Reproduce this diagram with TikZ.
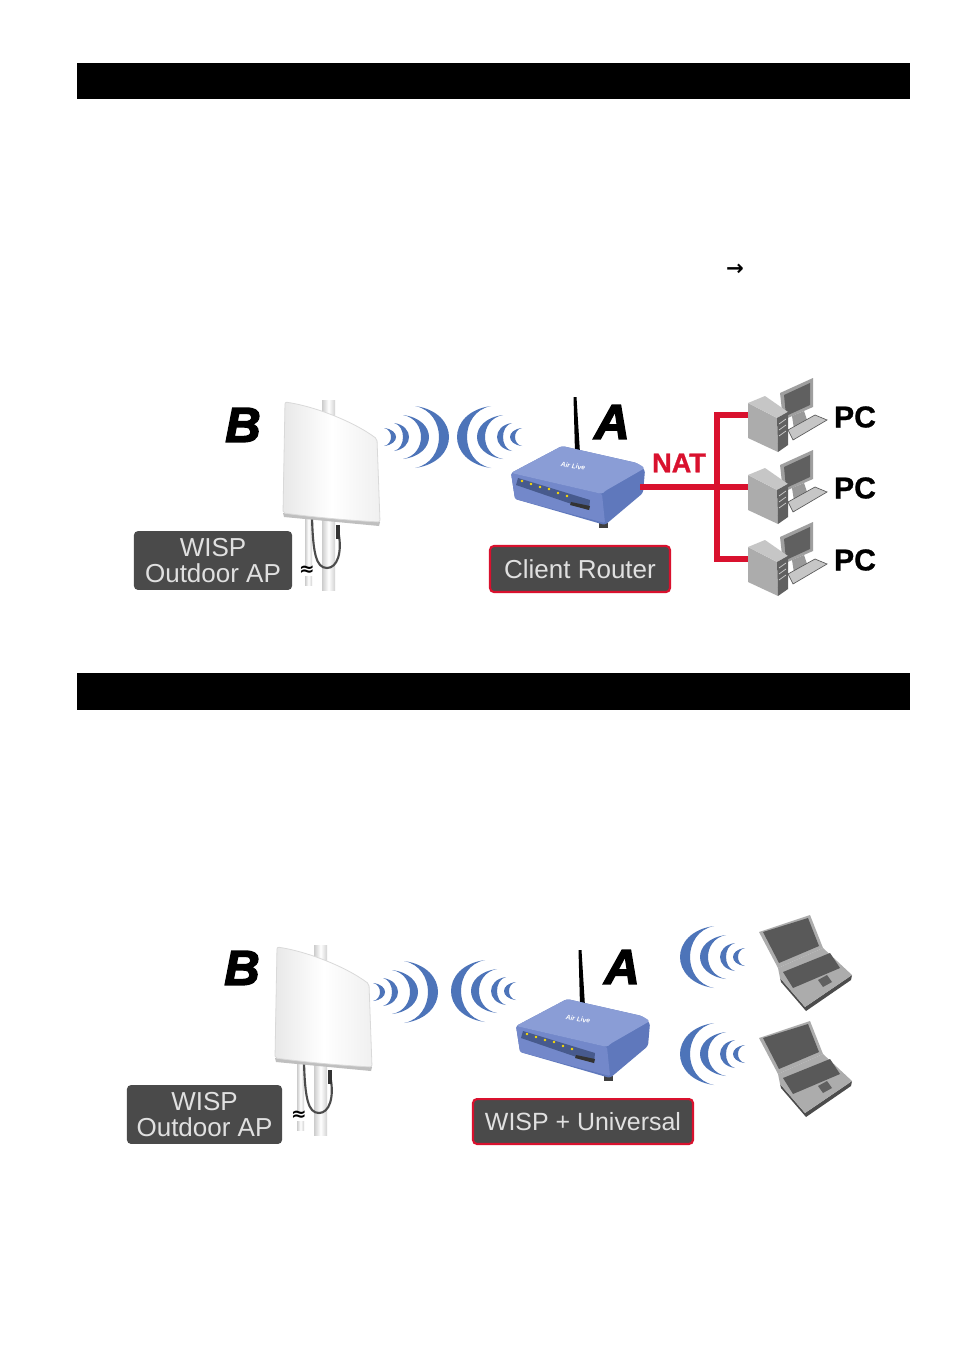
\documentclass[tikz,border=0pt]{standalone}
\usepackage{fontspec}
\setmainfont[BoldFeatures={FakeBold=1}]{Liberation Sans}
\newfontfamily\arrowfont{DejaVu Sans}
\newfontfamily\heavyfont[BoldItalicFeatures={FakeBold=3}]{Liberation Sans}
\definecolor{wave_c}{HTML}{4D74B9}
\definecolor{red_c}{HTML}{D9112E}
\definecolor{box_c}{HTML}{4A4A4A}
\definecolor{rt_top}{HTML}{8A9DD6}
\definecolor{rt_front}{HTML}{7388CA}
\definecolor{rt_side}{HTML}{5F78BC}
\tikzset{
  head_bar/.style = {fill=black},
  box_g/.style = {rectangle, rounded corners=3pt, fill=box_c, text=white!88!black,
    inner sep=0pt, align=center, font=\fontsize{19.6}{19.6}\selectfont},% grey label
  box_r/.style = {box_g, draw=red_c, line width=1.6pt},% grey label, red frame
  letter/.style = {font=\fontsize{37}{37}\selectfont\heavyfont\bfseries\itshape},
  pc_txt/.style = {font=\fontsize{22.7}{22.7}\selectfont\bfseries},
  red_line/.style = {draw=red_c, line width=3.8pt},
  wifi/.pic = {
    \foreach \tp/\hh/\bb/\ww in {1/31/-33/10,13/22/-13/8,22/14/7/6,32/9/20/5}
      \fill[wave_c] (\tp,-\hh) .. controls ({(4*\bb-\tp)/3},{-.8*\hh}) and ({(4*\bb-\tp)/3},{.8*\hh}) .. (\tp,\hh)
        .. controls ({(4*(\bb+\ww)-\tp)/3},{.8*\hh}) and ({(4*(\bb+\ww)-\tp)/3},{-.8*\hh}) .. cycle;
  },
  panel/.pic = {
    \shade[left color=gray!40, right color=gray!35, middle color=white] (39,-3) rectangle (52,187);
    \shade[left color=gray!40, right color=gray!35, middle color=white] (22,110) rectangle (29,182);
    \draw[gray!60!black, line width=1.6pt] (29,114) .. controls (30,150) and (33,165) .. (44,165)
      .. controls (54,165) and (60,150) .. (55,127);
    \fill[black!80] (53,122) rectangle (57,136);
    \fill[gray!50] (0,110) -- (97,119) -- (96,123) -- (1,114) -- cycle;
    \shade[left color=gray!18, right color=gray!12, middle color=white, draw=gray!30, line width=.6pt, rounded corners=1.5pt]
      (2,-1) .. controls (30,3) and (70,18) .. (94,36) -- (97,119) .. controls (60,117) and (30,114) .. (0,110) -- cycle;
    \node[fill=white, inner sep=0pt, font=\arrowfont\fontsize{14}{14}\selectfont\bfseries] (-brk) at (24,168) {≈};
  },
  router/.pic = {
    \fill[black] (62.5,-76) -- (65.5,-76) -- (69,-20) -- (64,-20) -- cycle;
    \fill[black!75] (88,50) rectangle (97,55);
    \fill[rt_side, rounded corners=2pt] (0,0) -- (51,-27) -- (126,-10) -- (134,-3) -- (132,20) -- (94,52) -- (4,26) -- cycle;
    \fill[rt_front, rounded corners=1pt] (0,0) -- (91,21) -- (94,50) -- (4,26) -- cycle;
    \fill[rt_top, rounded corners=2pt] (0,0) -- (51,-27) -- (126,-10) -- (134,-5) -- (94,18) -- (91,21) -- cycle;
    \fill[rt_side!75!black] (7,5) -- (79,27) -- (78,37) -- (5,12) -- cycle;
    \fill[black!80] (60,29) -- (79,33) -- (78,37) -- (59,32) -- cycle;
    \foreach \ledx/\ledy in {11/8,20/11,29/14,38/16,47/20,56/23}
      \fill[yellow!80!orange] (\ledx,\ledy) circle (1.3);
    \node[rotate=-8, inner sep=0pt, text=white, font=\fontsize{5}{5}\selectfont\bfseries\itshape] (-logo) at (62,-7) {Air Live};
    \coordinate (-port) at (129,14);
  },
  pc/.pic = {
    \fill[gray!75] (32,-22) -- (65,-37) -- (65,-8) -- (35,5) -- cycle;
    \fill[gray!75!black] (36,-20) -- (62,-32) -- (62,-10) -- (38,1) -- cycle;
    \fill[gray!80] (44,1) -- (56,-4) -- (60,8) -- (46,14) -- cycle;
    \draw[gray!70!black, fill=gray!45, line width=.5pt] (40,15) -- (67,0) -- (79,5) -- (45,25) -- cycle;
    \fill[gray!65] (0,-12) -- (29,3) -- (30,37) -- (0,23) -- cycle;
    \fill[gray!45] (0,-12) -- (17,-19) -- (40,-3) -- (29,3) -- cycle;
    \fill[gray!75!black] (29,3) -- (40,-3) -- (40,30) -- (30,37) -- cycle;
    \draw[gray!35, line width=.5pt] (31,9) -- (38,4) (31,15) -- (38,10) (31,21) -- (38,16);
    \coordinate (-port) at (0,0);
  },
  laptop/.pic = {
    \fill[gray!65] (0,0) -- (51,-17) -- (64,16) -- (19,36) -- cycle;
    \fill[gray!70!black] (4,0) -- (49,-14) -- (60,14) -- (20,31) -- cycle;
    \fill[gray!60!black] (21,46) -- (46,75) -- (93,43) -- (92,48) -- (47,79) -- (22,50) -- cycle;
    \fill[gray!65] (19,36) -- (64,16) -- (93,43) -- (46,75) -- (21,46) -- cycle;
    \fill[black!65] (24,40) -- (71,21) -- (81,36) -- (34,56) -- cycle;
    \fill[gray!75!black] (59,48) -- (68,43) -- (73,50) -- (64,55) -- cycle;
  }
}

\begin{document}
\begin{tikzpicture}[x=0.0265cm,y=-0.0265cm]
\useasboundingbox[fill=white] (0,0) rectangle (954,1355);
\fill[head_bar] (77,63) rectangle (910,99);
\fill[head_bar] (77,673) rectangle (910,710);
\node [font=\arrowfont\fontsize{16}{16}\selectfont\bfseries] (arrow_txt) at (735,270) {→};

% client router
\pic (panel_a) at (283,403) {panel};
\pic [xscale=-1] (wave_a) at (416,437) {wifi};
\pic (wave_b) at (490,437) {wifi};
\pic (router_a) at (511,473) {router};
\pic (pc_a) at (748,415) {pc};
\pic (pc_b) at (748,487) {pc};
\pic (pc_c) at (748,559) {pc};
\coordinate (nat_joint) at (717,487);
\draw[red_line] (router_a-port) -- (pc_b-port);
\draw[red_line] (pc_a-port) -| (nat_joint) |- (pc_c-port);
\node [letter] (b_one) at (243,425) {B};
\node [letter] (a_one) at (612,422) {A};
\node [font=\fontsize{20.5}{20.5}\selectfont\bfseries, text=red_c] (nat) at (679,463) {NAT};
\node [pc_txt] (pc_ta) at (855,417) {PC};
\node [pc_txt] (pc_tb) at (855,488) {PC};
\node [pc_txt] (pc_tc) at (855,560) {PC};
\node [box_g, minimum width=4.19cm, minimum height=1.56cm] (ap_a) at (213,560.5) {WISP\\Outdoor AP};
\node [box_r, minimum width=4.77cm, minimum height=1.22cm] (client) at (580,569) {Client Router};

% wisp + universal
\pic (panel_b) at (275,948) {panel};
\pic [xscale=-1] (wave_c) at (405,992) {wifi};
\pic (wave_d) at (484,991) {wifi};
\pic (router_b) at (516,1026) {router};
\pic (wave_e) at (713,957) {wifi};
\pic (wave_f) at (713,1054) {wifi};
\pic (lap_a) at (759,932) {laptop};
\pic (lap_b) at (759,1038) {laptop};
\node [letter] (b_two) at (242,968) {B};
\node [letter] (a_two) at (622,967) {A};
\node [box_g, minimum width=4.11cm, minimum height=1.56cm] (ap_b) at (204.5,1114.5) {WISP\\Outdoor AP};
\node [box_r, minimum width=5.83cm, minimum height=1.19cm, font=\fontsize{18.8}{18.8}\selectfont] (univ) at (583,1121.5) {WISP + Universal};
\end{tikzpicture}
\end{document}
